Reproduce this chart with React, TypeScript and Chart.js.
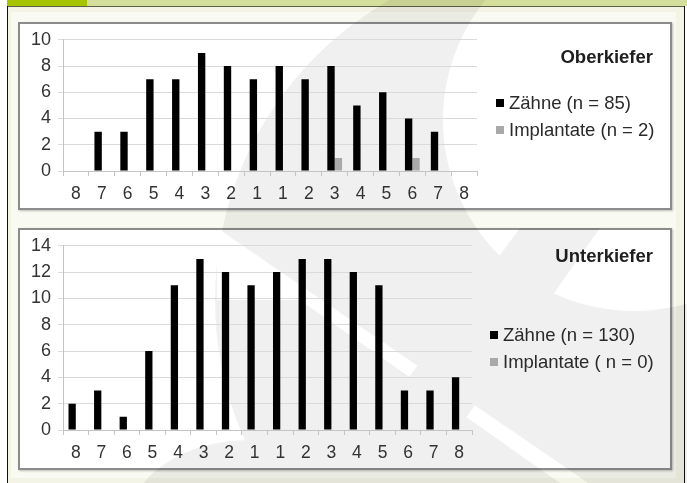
import React, { useEffect, useRef } from 'react';
import { Chart, registerables } from 'chart.js';

Chart.register(...registerables);

// Tooth positions from the distal end of one side, across the midline, to the other side
const toothPositions = ['8', '7', '6', '5', '4', '3', '2', '1', '1', '2', '3', '4', '5', '6', '7', '8'];

// Upper jaw (Oberkiefer)
const upperTeeth = [0, 3, 3, 7, 7, 9, 8, 7, 8, 7, 8, 5, 6, 4, 3, 0];
const upperImplants = [0, 0, 0, 0, 0, 0, 0, 0, 0, 0, 1, 0, 0, 1, 0, 0];
const upperLabels = ['Zähne (n = 85)', 'Implantate (n = 2)'];
const upperMax = 10;

// Lower jaw (Unterkiefer)
const lowerTeeth = [2, 3, 1, 6, 11, 13, 12, 11, 12, 13, 13, 12, 11, 3, 3, 4];
const lowerImplants = [0, 0, 0, 0, 0, 0, 0, 0, 0, 0, 0, 0, 0, 0, 0, 0];
const lowerLabels = ['Zähne (n = 130)', 'Implantate ( n = 0)'];
const lowerMax = 14;

const yStep = 2;

const FONT = '"Liberation Sans", Arial, Helvetica, sans-serif';
const TEETH_COLOR = '#000000';
const IMPLANT_COLOR = '#a9a9a9';

type Box = { left: number; top: number; width: number; height: number };

type PanelProps = {
  box: Box;
  title: string;
  labels: string[];
  teeth: number[];
  implants: number[];
  max: number;
  plot: { left: number; top: number; right: number; bottom: number };
  legend: { titleRight: number; titleY: number; markX: number; textX: number; rowY: number[] };
};

// Draws the jaw name and the two-entry key to the right of the plot
const sideLegend = {
  id: 'sideLegend',
  afterDraw(chart: any, _args: any, opts: any) {
    const { ctx } = chart;
    ctx.save();
    ctx.textBaseline = 'middle';
    ctx.fillStyle = '#1e1e1e';
    ctx.font = `bold 18.5px ${FONT}`;
    ctx.textAlign = 'right';
    ctx.fillText(opts.title, opts.titleRight, opts.titleY);
    ctx.font = `18.5px ${FONT}`;
    ctx.textAlign = 'left';
    chart.data.datasets.forEach((ds: any, i: number) => {
      const y = opts.rowY[i];
      ctx.fillStyle = ds.backgroundColor;
      ctx.fillRect(opts.markX, y - 4, 8, 8);
      ctx.fillStyle = '#2a2a2a';
      ctx.fillText(ds.label, opts.textX, y + 1);
    });
    ctx.restore();
  },
};

function JawPanel({ box, title, labels, teeth, implants, max, plot, legend }: PanelProps) {
  const ref = useRef<HTMLCanvasElement>(null);

  useEffect(() => {
    if (!ref.current) return;
    const xAxisHeight = box.height - plot.bottom;
    const chart = new Chart(ref.current, {
      type: 'bar',
      data: {
        labels: toothPositions,
        datasets: [
          { label: labels[0], data: teeth, backgroundColor: TEETH_COLOR, categoryPercentage: 0.57, barPercentage: 1 },
          { label: labels[1], data: implants, backgroundColor: IMPLANT_COLOR, categoryPercentage: 0.57, barPercentage: 1 },
        ],
      },
      options: {
        animation: false,
        responsive: false,
        maintainAspectRatio: false,
        events: [],
        layout: { padding: { left: 0, top: plot.top, right: box.width - plot.right, bottom: 0 } },
        plugins: {
          legend: { display: false },
          tooltip: { enabled: false },
          sideLegend: { title, ...legend },
        } as any,
        scales: {
          x: {
            grid: { drawOnChartArea: false, drawTicks: true, tickLength: 5, color: '#c4c4c4', offset: true },
            border: { color: '#c4c4c4' },
            ticks: { color: '#333333', font: { family: FONT, size: 17.5 }, padding: 8, maxRotation: 0, autoSkip: false },
            afterFit: (s: any) => { s.height = xAxisHeight; },
          },
          y: {
            min: 0,
            max,
            ticks: { stepSize: yStep, color: '#333333', font: { family: FONT, size: 18 }, padding: 7 },
            grid: { color: '#dadada', tickLength: 5 },
            border: { color: '#c4c4c4' },
            afterFit: (s: any) => { s.width = plot.left; },
          },
        },
      },
      plugins: [sideLegend],
    });
    return () => chart.destroy();
  }, []);

  return (
    <>
      <div
        style={{
          position: 'absolute',
          left: box.left,
          top: box.top,
          width: box.width,
          height: box.height,
          boxSizing: 'border-box',
          background: '#ffffff',
          border: '2px solid #8c8c8c',
          boxShadow: '1px 1px 2px rgba(0,0,0,0.25)',
        }}
      />
      <canvas
        ref={ref}
        width={box.width}
        height={box.height}
        style={{ position: 'absolute', left: box.left, top: box.top, width: box.width, height: box.height, zIndex: 3 }}
      />
    </>
  );
}

// Faint logo behind the charts
function Watermark() {
  return (
    <svg
      width={687}
      height={483}
      style={{ position: 'absolute', left: 0, top: 0, zIndex: 2, pointerEvents: 'none' }}
    >
      <defs>
        <mask id="ringCut">
          <rect x={0} y={0} width={687} height={483} fill="#fff" />
          <polygon points="217,228 700,560 700,483 560,483 300,300 217,300" fill="#000" />
        </mask>
      </defs>
      <g opacity={0.055} fill="#000">
        <path
          fillRule="evenodd"
          mask="url(#ringCut)"
          d="M 215 300 A 345 345 0 1 0 905 300 A 345 345 0 1 0 215 300 Z M 443 120 A 191 191 0 1 0 825 120 A 191 191 0 1 0 443 120 Z"
        />
        <polygon points="330,483 420,483 600,228 520,228" />
        <ellipse cx={250} cy={520} rx={120} ry={80} />
      </g>
    </svg>
  );
}

export default function App() {
  useEffect(() => {
    document.body.style.margin = '0';
  }, []);

  return (
    <div style={{ position: 'relative', width: 687, height: 483, overflow: 'hidden', background: '#ffffff' }}>
      <div style={{ position: 'absolute', left: 7, top: 0, width: 680, height: 6, background: '#d5df9c' }} />
      <div style={{ position: 'absolute', left: 7, top: 0, width: 80, height: 6, background: '#a7c400' }} />
      <div style={{ position: 'absolute', left: 7, top: 6, width: 678, height: 1, background: '#5e6048' }} />
      <div style={{ position: 'absolute', left: 8, top: 7, width: 676, height: 476, background: '#f3f4e6' }} />
      <div style={{ position: 'absolute', left: 11, top: 12, width: 665, height: 466, background: '#f9faf2' }} />
      <div style={{ position: 'absolute', left: 7, top: 6, width: 1, height: 477, background: '#111' }} />
      <div style={{ position: 'absolute', left: 684, top: 6, width: 1, height: 477, background: '#111' }} />

      <JawPanel
        box={{ left: 18, top: 22, width: 654, height: 188 }}
        title="Oberkiefer"
        labels={upperLabels}
        teeth={upperTeeth}
        implants={upperImplants}
        max={upperMax}
        plot={{ left: 45, top: 17, right: 459, bottom: 149 }}
        legend={{ titleRight: 635, titleY: 36, markX: 478, textX: 491, rowY: [81, 108] }}
      />
      <JawPanel
        box={{ left: 18, top: 228, width: 654, height: 242 }}
        title="Unterkiefer"
        labels={lowerLabels}
        teeth={lowerTeeth}
        implants={lowerImplants}
        max={lowerMax}
        plot={{ left: 45, top: 17, right: 454, bottom: 202 }}
        legend={{ titleRight: 635, titleY: 29, markX: 472, textX: 485, rowY: [107, 134] }}
      />
      <Watermark />
    </div>
  );
}
